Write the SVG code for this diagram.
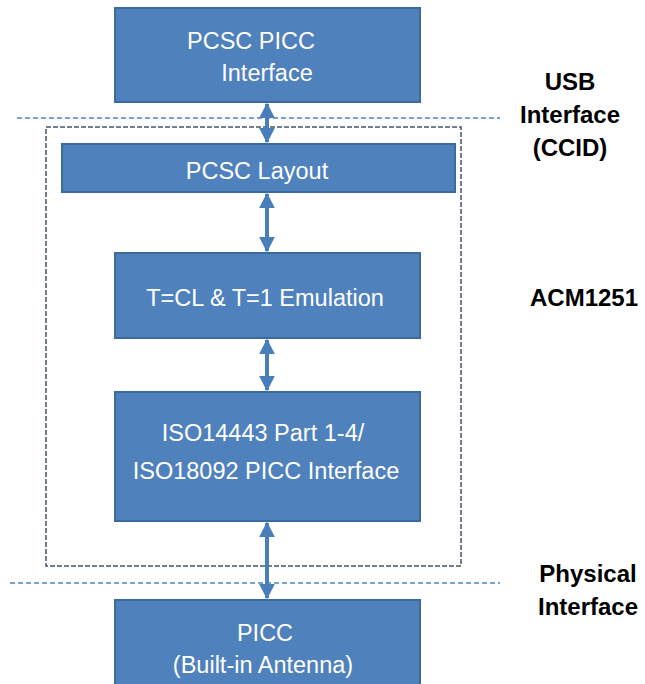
<svg xmlns="http://www.w3.org/2000/svg" width="645" height="684" viewBox="0 0 645 684">
<defs>
<marker id="ah" viewBox="0 0 10 10" refX="9" refY="5" markerWidth="4" markerHeight="4" orient="auto-start-reverse" markerUnits="strokeWidth">
<path d="M0,0 L10,5 L0,10 z" fill="#4A7EBB"/>
</marker>
</defs>
<style>
.box{fill:#4F81BD;stroke:#3B6A9E;stroke-width:2}
.t{font-family:"Liberation Sans",Arial,sans-serif;font-size:23.5px;fill:#fff;text-anchor:middle}
.lbl{font-family:"Liberation Sans",Arial,sans-serif;font-size:24px;font-weight:bold;fill:#000;text-anchor:middle}
.sep{stroke:#4F81BD;stroke-width:1.5;stroke-dasharray:5,3;fill:none}
.frame{stroke:#44546A;stroke-width:1.5;stroke-dasharray:5,2;fill:none}
.conn{stroke:#4A7EBB;stroke-width:4;fill:none;marker-start:url(#ah);marker-end:url(#ah)}
</style>
<rect width="645" height="684" fill="#fff"/>
<line class="sep" x1="17" y1="118" x2="500" y2="118"/>
<line class="sep" x1="10" y1="583" x2="500" y2="583"/>
<rect class="frame" x="46" y="127" width="415" height="439"/>
<g id="n1"><rect class="box" x="115" y="8" width="305" height="94"/><text class="t" x="251" y="49">PCSC PICC</text><text class="t" x="267" y="81">Interface</text></g>
<g id="n2"><rect class="box" x="62" y="144" width="393" height="48"/><text class="t" x="257" y="179">PCSC Layout</text></g>
<g id="n3"><rect class="box" x="115" y="253" width="305" height="85"/><text class="t" x="265" y="306">T=CL &amp; T=1 Emulation</text></g>
<g id="n4"><rect class="box" x="115" y="392" width="305" height="129"/><text class="t" x="263" y="441">ISO14443 Part 1-4/</text><text class="t" x="266" y="479">ISO18092 PICC Interface</text></g>
<g id="n5"><rect class="box" x="115" y="600" width="305" height="90"/><text class="t" x="265" y="641">PICC</text><text class="t" x="263" y="673">(Built-in Antenna)</text></g>
<g id="connectors">
<line class="conn" x1="267" y1="104" x2="267" y2="142"/>
<line class="conn" x1="267" y1="194" x2="267" y2="251"/>
<line class="conn" x1="267" y1="340" x2="267" y2="390"/>
<line class="conn" x1="267" y1="523" x2="267" y2="598"/>
</g>
<g id="labels">
<text class="lbl" x="570" y="90">USB</text>
<text class="lbl" x="570" y="123">Interface</text>
<text class="lbl" x="570" y="156">(CCID)</text>
<text class="lbl" x="584" y="306">ACM1251</text>
<text class="lbl" x="588" y="582">Physical</text>
<text class="lbl" x="588" y="615">Interface</text>
</g>
</svg>
